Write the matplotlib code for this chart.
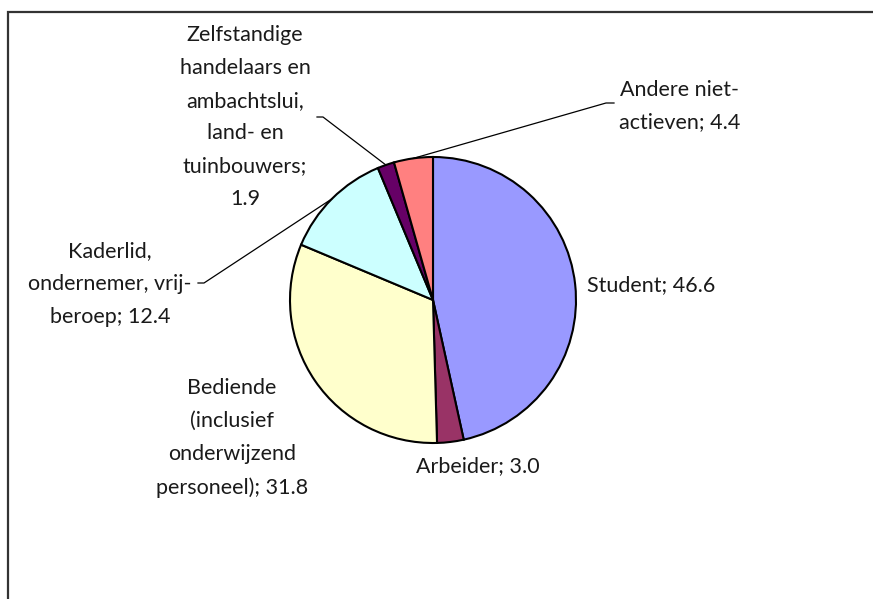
import numpy as np
import matplotlib.pyplot as plt
from matplotlib.patches import Rectangle

# Pie data (percentages), clockwise from 12 o'clock
labels = ['Student', 'Arbeider',
          'Bediende\n(inclusief\nonderwijzend\npersoneel)',
          'Kaderlid,\nondernemer, vrij-\nberoep',
          'Zelfstandige\nhandelaars en\nambachtslui,\nland- en\ntuinbouwers;\n',
          'Andere niet-\nactieven']
values = [46.6, 3.0, 31.8, 12.4, 1.9, 4.4]
colors = ['#9999FF', '#993366', '#FFFFCC', '#CCFFFF', '#660066', '#FF8080']

W, H = 873, 599
fig = plt.figure(figsize=(W / 100, H / 100), dpi=100)
ax = fig.add_axes([0, 0, 1, 1])
ax.set_xlim(0, W)
ax.set_ylim(0, H)
ax.set_aspect('equal')
ax.axis('off')

cx, cy, r = 433, H - 300, 143
ax.pie(values, colors=colors, startangle=90, counterclock=False,
       center=(cx, cy), radius=r,
       wedgeprops=dict(edgecolor='black', linewidth=1.5))
ax.set_xlim(0, W)
ax.set_ylim(0, H)

# outer chart frame
fig.patches.append(Rectangle((8 / W, -0.1), 1.2, (H - 12) / H + 0.1,
                             transform=fig.transFigure, fill=False,
                             edgecolor='#333333', linewidth=1.6))

font = dict(family=['Lato', 'DejaVu Sans'], fontsize=15.5,
            color='#1a1a1a', linespacing=1.8)

def txt(i):
    if labels[i].endswith('\n'):
        return labels[i] + '%.1f' % values[i]
    return labels[i] + '; %.1f' % values[i]

def edge_point(i):
    tot = sum(values)
    mid = (sum(values[:i]) + values[i] / 2) / tot * 2 * np.pi
    return cx + r * np.sin(mid), cy + r * np.cos(mid)

# label placement (pixel coords from top-left)
ax.text(587, H - 285, txt(0), ha='left', va='center', **font)
ax.text(478, H - 466, txt(1), ha='center', va='center', **font)
ax.text(232, H - 438, txt(2), ha='center', va='center', **font)
ax.text(110, H - 284, txt(3), ha='center', va='center', **font)
ax.text(245, H - 117, txt(4), ha='center', va='center', **font)
ax.text(680, H - 106, txt(5), ha='center', va='center', **font)

# leader lines
leaders = {3: (198, 283, 204), 4: (317, 117, 323), 5: (614, 103, 606)}
for i, (x0, y0, x1) in leaders.items():
    ex, ey = edge_point(i)
    ax.plot([x0, x1, ex], [H - y0, H - y0, ey], color='black', lw=0.9)

fig.savefig('out.png', dpi=100)
